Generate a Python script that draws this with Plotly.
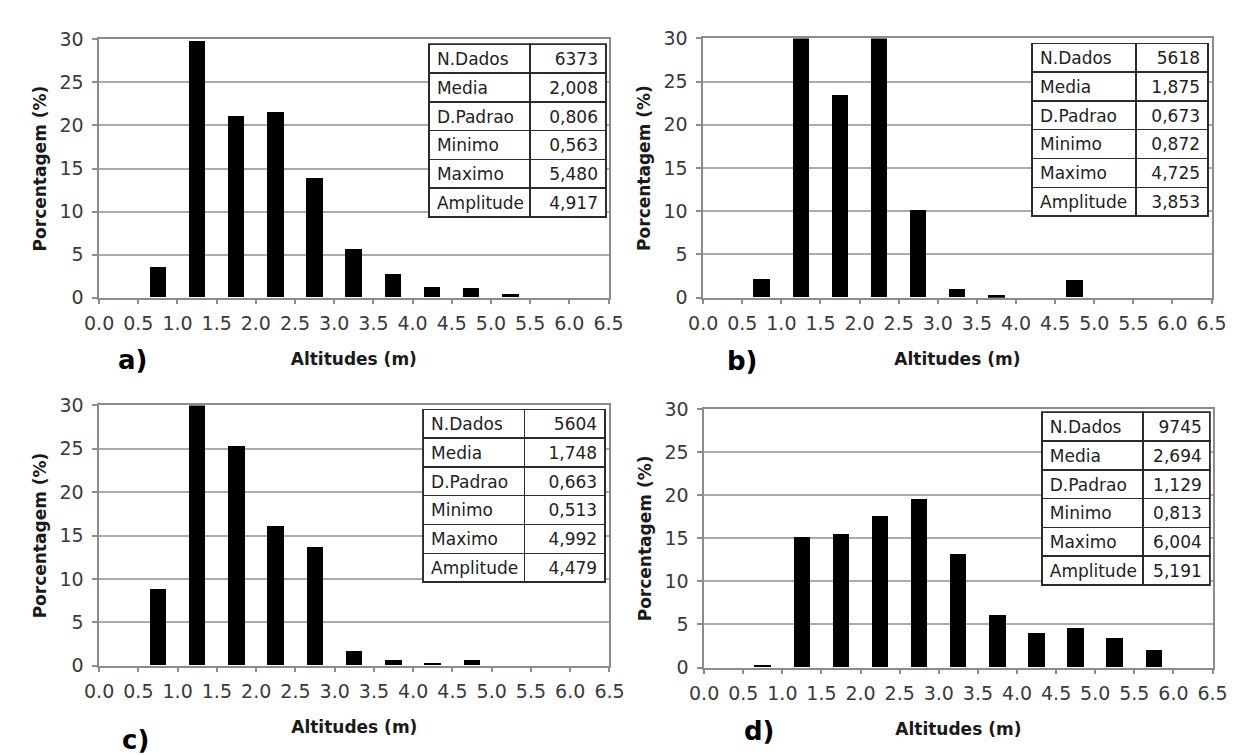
import plotly.graph_objects as go

# ---------------- data ----------------
bin_centers = [0.75, 1.25, 1.75, 2.25, 2.75, 3.25, 3.75, 4.25, 4.75, 5.25, 5.75]
tick_vals = [0.0, 0.5, 1.0, 1.5, 2.0, 2.5, 3.0, 3.5, 4.0, 4.5, 5.0, 5.5, 6.0, 6.5]
tick_text = ["0.0", "0.5", "1.0", "1.5", "2.0", "2.5", "3.0", "3.5", "4.0", "4.5", "5.0", "5.5", "6.0", "6.5"]

pct_a = [3.5, 29.8, 21.0, 21.5, 13.8, 5.6, 2.7, 1.2, 1.05, 0.4, 0.0]
pct_b = [2.1, 30.6, 23.4, 30.6, 10.1, 1.0, 0.2, 0.0, 1.95, 0.0, 0.0]
pct_c = [8.8, 33.2, 25.3, 16.0, 13.6, 1.6, 0.6, 0.3, 0.6, 0.0, 0.0]
pct_d = [0.3, 15.1, 15.5, 17.6, 19.5, 13.2, 6.1, 4.0, 4.55, 3.45, 2.05]

stat_names = ["N.Dados", "Media", "D.Padrao", "Minimo", "Maximo", "Amplitude"]
stats_a = ["6373", "2,008", "0,806", "0,563", "5,480", "4,917"]
stats_b = ["5618", "1,875", "0,673", "0,872", "4,725", "3,853"]
stats_c = ["5604", "1,748", "0,663", "0,513", "4,992", "4,479"]
stats_d = ["9745", "2,694", "1,129", "0,813", "6,004", "5,191"]

panel_labels = ["a)", "b)", "c)", "d)"]
x_title = "Altitudes (m)"
y_title = "Porcentagem (%)"

# ---------------- layout geometry (pixels) ----------------
W, H = 1242, 755
panels = [
    # plot left, right, top, bottom ; table left, divider, right, top ; label center x,y
    dict(pct=pct_a, stats=stats_a, px=(78, 600, 21, 287), tb=(416, 520, 598, 26), lab=(112, 351)),
    dict(pct=pct_b, stats=stats_b, px=(697, 1218, 20, 287), tb=(1034, 1141, 1215, 25), lab=(737, 352)),
    dict(pct=pct_c, stats=stats_c, px=(78, 601, 398, 666), tb=(410, 514, 597, 402), lab=(115, 743)),
    dict(pct=pct_d, stats=stats_d, px=(698, 1219, 402, 668), tb=(1044, 1148, 1217, 405), lab=(755, 733)),
]

fig = go.Figure()
grid_col = "#ababab"
axis_col = "#8c8c8c"
tick_font = dict(family="DejaVu Sans", size=19, color="#3a3a3a")
title_font = dict(family="DejaVu Sans", size=17, color="#1a1a1a")
table_font = dict(family="DejaVu Sans", size=17, color="#222222")

annotations = []
for i, p in enumerate(panels):
    n = "" if i == 0 else str(i + 1)
    l, r, t, b = p["px"]
    fig.add_trace(go.Bar(
        x=bin_centers, y=p["pct"], width=0.21,
        marker=dict(color="black", line=dict(width=0)),
        xaxis="x" + n, yaxis="y" + n, showlegend=False,
    ))
    fig.update_layout(**{
        "xaxis" + n: dict(
            domain=[l / W, r / W], anchor="y" + n, range=[0, 6.5],
            tickvals=tick_vals, ticktext=tick_text,
            showgrid=False, showline=True, linecolor=axis_col, linewidth=1.5, mirror=True,
            ticks="outside", ticklen=5, tickcolor=axis_col, tickwidth=1.5,
            ticklabelstandoff=3, tickfont=tick_font, zeroline=False,
            title=dict(text="<b>" + x_title + "</b>", font=title_font, standoff=20),
            fixedrange=True,
        ),
        "yaxis" + n: dict(
            domain=[1 - b / H, 1 - t / H], anchor="x" + n, range=[0, 30],
            tick0=0, dtick=5,
            showgrid=True, gridcolor=grid_col, gridwidth=1.5,
            showline=True, linecolor=axis_col, linewidth=1.5, mirror=True,
            ticks="outside", ticklen=5, tickcolor=axis_col, tickwidth=1.5,
            ticklabelstandoff=5, tickfont=tick_font, zeroline=False,
            title=dict(text="<b>" + y_title + "</b>", font=title_font, standoff=8),
            fixedrange=True,
        ),
    })
    tl, td, tr, tt = p["tb"]
    row_h = 28.8
    fig.add_trace(go.Table(
        domain=dict(x=[tl / W, tr / W], y=[1 - (tt + 6 * row_h + 20) / H, 1 - tt / H]),
        columnwidth=[td - tl, tr - td],
        header=dict(
            values=[stat_names[0], p["stats"][0]],
            align=["left", "right"], height=row_h,
            fill=dict(color="white"), line=dict(color="#2b2b2b", width=1.5),
            font=table_font,
        ),
        cells=dict(
            values=[stat_names[1:], p["stats"][1:]],
            align=["left", "right"], height=row_h,
            fill=dict(color="white"), line=dict(color="#2b2b2b", width=1.5),
            font=table_font,
        ),
    ))
    lx, ly = p["lab"]
    annotations.append(dict(
        text="<b>" + panel_labels[i] + "</b>", x=lx / W, y=1 - ly / H,
        xref="paper", yref="paper", showarrow=False, xanchor="center", yanchor="middle",
        font=dict(family="DejaVu Sans", size=26, color="black"),
    ))

fig.update_layout(
    width=W, height=H, margin=dict(l=0, r=0, t=0, b=0),
    paper_bgcolor="white", plot_bgcolor="white",
    annotations=annotations, bargap=0,
)

fig.write_html("out.html")
